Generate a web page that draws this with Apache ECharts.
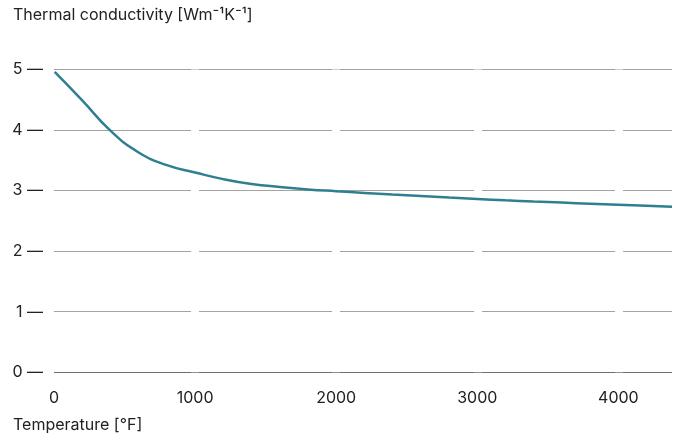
<!DOCTYPE html>
<html>
<head>
<meta charset="utf-8">
<script src="https://cdn.jsdelivr.net/npm/echarts@6/dist/echarts.min.js"></script>
<style>
  html, body { margin: 0; padding: 0; background: #fff; }
  #chart { width: 681px; height: 441px; }
</style>
</head>
<body>
<div id="chart"></div>
<script>
// temperature [°F] and conductivity
var temps = [5, 200, 400, 600, 800, 1000, 1200, 1400, 1600, 1800, 2000, 2200, 2400, 2600, 2800, 3000, 3200, 3400, 3600, 3800, 4000, 4200, 4380];
var conductivity = [4.96, 4.49, 3.99, 3.63, 3.42, 3.30, 3.19, 3.11, 3.06, 3.02, 2.99, 2.962, 2.935, 2.91, 2.885, 2.862, 2.84, 2.82, 2.802, 2.785, 2.768, 2.75, 2.733];
var yTicks = [0, 1, 2, 3, 4, 5];

var font = 'Inter, Roboto, sans-serif';
var chart = echarts.init(document.getElementById('chart'));

var points = temps.map(function (t, i) { return [t, conductivity[i]]; });

chart.setOption({
  animation: false,
  grid: { left: 54, right: 9, top: 69.5, bottom: 68.7 },
  graphic: [
    { type: 'text', left: 13, top: 7,
      style: { text: 'Thermal conductivity [Wm⁻¹K⁻¹]', font: '16px ' + font, fill: '#222' } },
    { type: 'text', left: 13, top: 417,
      style: { text: 'Temperature [°F]', font: '16px ' + font, fill: '#222' } }
  ],
  xAxis: {
    type: 'value',
    min: 0,
    max: 4380,
    interval: 1000,
    z: 1,
    axisLine: { show: false },
    axisTick: { show: false },
    splitLine: { show: true, showMinLine: false, showMaxLine: false, lineStyle: { color: '#fff', width: 8 } },
    axisLabel: {
      showMaxLabel: false, margin: 18, fontSize: 16, fontFamily: font, color: '#222',
      formatter: function (v) { return String(v); }
    }
  },
  yAxis: {
    type: 'value',
    min: yTicks[0],
    max: yTicks[yTicks.length - 1],
    interval: 1,
    z: 0,
    axisLine: { show: false },
    axisTick: { show: false },
    splitLine: {
      show: true,
      lineStyle: { color: ['#6e6e6e', '#a3a3a3', '#a3a3a3', '#a3a3a3', '#a3a3a3', '#a3a3a3'], width: 1 }
    },
    axisLabel: {
      margin: 11, fontSize: 16, fontFamily: font, color: '#222',
      formatter: function (v) { return v + ' —'; }
    }
  },
  series: [{
    type: 'line',
    data: points,
    smooth: 0.5,
    symbol: 'none',
    z: 3,
    lineStyle: { color: '#2f7f91', width: 2.5 }
  }]
});
</script>
</body>
</html>
